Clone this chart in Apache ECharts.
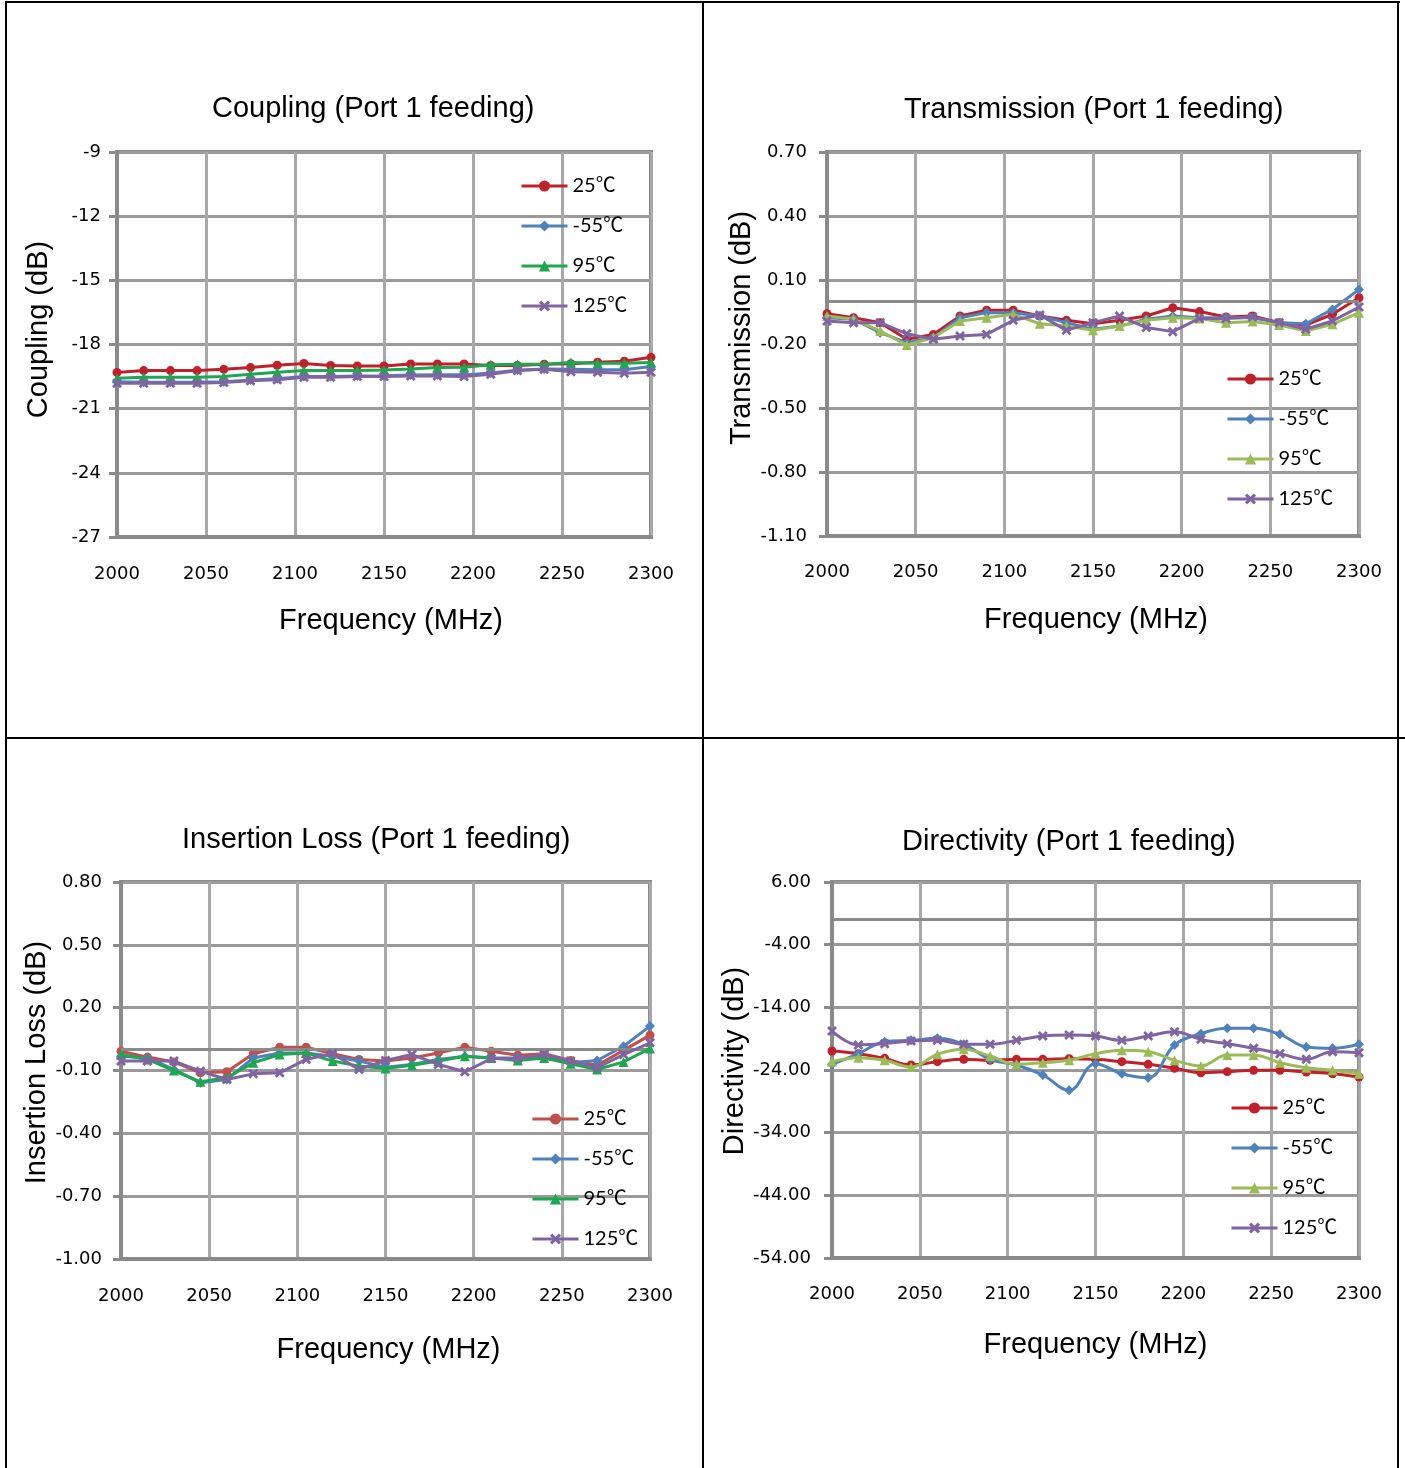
<!DOCTYPE html>
<html>
<head>
<meta charset="utf-8">
<script src="https://cdn.jsdelivr.net/npm/echarts@6/dist/echarts.min.js"></script>
<style>
html,body{margin:0;padding:0;background:#fff;}
#c{width:1405px;height:1468px;}
</style>
</head>
<body>
<div id="c"></div>
<script>
// ---------- data ----------
const freq = [2000,2015,2030,2045,2060,2075,2090,2105,2120,2135,2150,2165,2180,2195,2210,2225,2240,2255,2270,2285,2300];
const seriesNames = ['25℃','-55℃','95℃','125℃'];
const xTicks = [2000,2050,2100,2150,2200,2250,2300];

const coupling25  = [-19.31,-19.22,-19.22,-19.22,-19.16,-19.08,-18.97,-18.89,-18.98,-19.00,-19.00,-18.91,-18.91,-18.91,-18.98,-18.98,-18.92,-18.90,-18.83,-18.78,-18.60];
const couplingM55 = [-19.74,-19.76,-19.76,-19.76,-19.74,-19.66,-19.60,-19.50,-19.50,-19.47,-19.46,-19.43,-19.42,-19.42,-19.33,-19.20,-19.14,-19.16,-19.18,-19.18,-19.03];
const coupling95  = [-19.58,-19.53,-19.53,-19.53,-19.50,-19.39,-19.30,-19.22,-19.22,-19.22,-19.19,-19.14,-19.08,-19.06,-18.95,-18.92,-18.92,-18.84,-18.88,-18.88,-18.84];
const coupling125 = [-19.81,-19.81,-19.81,-19.81,-19.78,-19.69,-19.65,-19.53,-19.53,-19.50,-19.50,-19.47,-19.47,-19.50,-19.39,-19.22,-19.16,-19.27,-19.30,-19.34,-19.30];

const trans25  = [-0.058,-0.077,-0.100,-0.178,-0.155,-0.069,-0.042,-0.042,-0.069,-0.089,-0.105,-0.089,-0.069,-0.030,-0.048,-0.073,-0.069,-0.100,-0.111,-0.061,0.017];
const transM55 = [-0.077,-0.084,-0.147,-0.194,-0.170,-0.077,-0.053,-0.053,-0.069,-0.100,-0.131,-0.116,-0.084,-0.069,-0.077,-0.077,-0.077,-0.100,-0.105,-0.038,0.056];
const trans95  = [-0.069,-0.084,-0.139,-0.205,-0.170,-0.092,-0.077,-0.061,-0.105,-0.116,-0.136,-0.116,-0.089,-0.077,-0.080,-0.100,-0.095,-0.111,-0.139,-0.108,-0.053];
const trans125 = [-0.092,-0.100,-0.100,-0.152,-0.178,-0.163,-0.155,-0.089,-0.064,-0.136,-0.100,-0.069,-0.123,-0.142,-0.080,-0.080,-0.073,-0.100,-0.131,-0.092,-0.027];

const ins25  = [-0.008,-0.036,-0.059,-0.111,-0.106,-0.020,0.011,0.011,-0.020,-0.047,-0.055,-0.040,-0.016,0.011,-0.008,-0.027,-0.020,-0.052,-0.075,-0.004,0.069];
const insM55 = [-0.032,-0.040,-0.095,-0.159,-0.143,-0.040,-0.016,-0.016,-0.032,-0.055,-0.084,-0.071,-0.047,-0.032,-0.040,-0.040,-0.036,-0.063,-0.052,0.016,0.112];
const ins95  = [-0.024,-0.047,-0.100,-0.154,-0.135,-0.063,-0.024,-0.016,-0.055,-0.079,-0.090,-0.075,-0.055,-0.032,-0.040,-0.052,-0.040,-0.068,-0.095,-0.059,0.005];
const ins125 = [-0.055,-0.055,-0.055,-0.103,-0.143,-0.116,-0.111,-0.047,-0.020,-0.095,-0.052,-0.024,-0.071,-0.106,-0.043,-0.043,-0.024,-0.055,-0.087,-0.024,0.032];

const dir25  = [-20.97,-21.39,-22.14,-23.20,-22.67,-22.30,-22.46,-22.30,-22.30,-22.19,-22.30,-22.67,-23.10,-23.73,-24.43,-24.27,-24.05,-24.05,-24.32,-24.59,-25.12];
const dirM55 = [-23.10,-21.39,-19.48,-19.27,-18.95,-19.90,-22.30,-23.20,-24.80,-27.25,-22.99,-24.59,-25.22,-20.01,-18.20,-17.35,-17.35,-18.31,-20.33,-20.54,-19.90];
const dir95  = [-22.67,-22.03,-22.46,-23.52,-21.50,-20.70,-21.77,-23.10,-22.83,-22.46,-21.39,-20.86,-21.07,-22.46,-23.36,-21.61,-21.61,-22.83,-23.63,-24.05,-24.59];
const dir125 = [-17.78,-20.01,-19.80,-19.37,-19.27,-19.90,-19.90,-19.27,-18.57,-18.41,-18.57,-19.27,-18.57,-17.88,-19.11,-19.80,-20.54,-21.39,-22.30,-21.07,-21.23];

// ---------- styling / layout ----------
const XSYM = 'path://M2,0L5,3L8,0L10,2L7,5L10,8L8,10L5,7L2,10L0,8L3,5L0,2Z';
const symbols = ['circle','diamond','triangle',XSYM];
const symSizes = [9,10,10,10];

const panels = [
  {title:'Coupling (Port 1 feeding)', yName:'Coupling (dB)', titleLeft:212, titleTop:94,
   grid:{left:117,top:152,width:534,height:385}, min:-27, max:-9, interval:3, dec:0, zero:false, smooth:false,
   data:[coupling25,couplingM55,coupling95,coupling125],
   colors:['#C0202A','#4F81BD','#1EA650','#8064A2'],
   legend:{left:520, top:176}, yNameGap:64, yNamePad:30, xNameGap:69, xNamePad:14, xLabMargin:28, yLabMargin:16},
  {title:'Transmission (Port 1 feeding)', yName:'Transmission (dB)', titleLeft:904, titleTop:95,
   grid:{left:827,top:152,width:532,height:384}, min:-1.1, max:0.7, interval:0.3, dec:2, zero:true, smooth:false,
   data:[trans25,transM55,trans95,trans125],
   colors:['#C0202A','#4F81BD','#9BBB59','#8064A2'],
   legend:{left:1226, top:369}, yNameGap:66, yNamePad:32, xNameGap:69, xNamePad:6, xLabMargin:27, yLabMargin:20},
  {title:'Insertion Loss (Port 1 feeding)', yName:'Insertion Loss (dB)', titleLeft:182, titleTop:825,
   grid:{left:121,top:882,width:529,height:377}, min:-1.0, max:0.8, interval:0.3, dec:2, zero:true, smooth:false,
   data:[ins25,insM55,ins95,ins125],
   colors:['#C0504D','#4F81BD','#1EA650','#8064A2'],
   legend:{left:531, top:1109}, yNameGap:68, yNamePad:16, xNameGap:76, xNamePad:6, xLabMargin:28, yLabMargin:19},
  {title:'Directivity (Port 1 feeding)', yName:'Directivity (dB)', titleLeft:902, titleTop:827,
   grid:{left:832,top:882,width:527,height:376}, min:-54, max:6, interval:10, dec:2, zero:true, smooth:0.4,
   data:[dir25,dirM55,dir95,dir125],
   colors:['#C0202A','#4F81BD','#9BBB59','#8064A2'],
   legend:{left:1230, top:1098}, yNameGap:75, yNamePad:18, xNameGap:72, xNamePad:0, xLabMargin:27, yLabMargin:21}
];

const option = {
  backgroundColor:'#fff',
  animation:false,
  title:[], grid:[], xAxis:[], yAxis:[], legend:[], series:[],
  graphic:[
    {type:'rect', shape:{x:5,y:1,width:1395,height:2}, style:{fill:'#000'}, silent:true},
    {type:'rect', shape:{x:5,y:1,width:2,height:1467}, style:{fill:'#000'}, silent:true},
    {type:'rect', shape:{x:1397,y:1,width:2,height:1467}, style:{fill:'#000'}, silent:true},
    {type:'rect', shape:{x:702,y:1,width:2,height:1467}, style:{fill:'#000'}, silent:true},
    {type:'rect', shape:{x:5,y:737,width:1400,height:2}, style:{fill:'#000'}, silent:true}
  ]
};

const AXC = '#8a8a8a';
panels.forEach((p, k) => {
  option.title.push({
    text:p.title, left:p.titleLeft, top:p.titleTop, padding:0,
    textStyle:{fontFamily:'Liberation Sans', fontSize:29, fontWeight:'normal', color:'#000'}
  });
  option.grid.push(Object.assign({show:true, borderColor:AXC, borderWidth:4, backgroundColor:'transparent'}, p.grid));
  option.xAxis.push({
    type:'value', gridIndex:k, min:2000, max:2300, interval:50,
    name:'Frequency (MHz)', nameLocation:'middle', nameGap:p.xNameGap,
    nameTextStyle:{fontFamily:'Liberation Sans', fontSize:29, color:'#000', padding:[0,0,0,p.xNamePad]},
    axisLine:{show:true, onZero:false, lineStyle:{color:AXC, width:4}},
    axisTick:{show:false},
    axisLabel:{margin:p.xLabMargin, fontFamily:'DejaVu Sans', fontSize:18, color:'#000', formatter:v=>String(v)},
    splitLine:{show:true, lineStyle:{color:'#a8a8a8', width:3}}
  });
  option.yAxis.push({
    type:'value', gridIndex:k, min:p.min, max:p.max, interval:p.interval,
    name:p.yName, nameLocation:'middle', nameGap:p.yNameGap, nameRotate:90,
    nameTextStyle:{fontFamily:'Liberation Sans', fontSize:29, color:'#000', padding:[0,0,0,p.yNamePad]},
    axisLine:{show:true, onZero:false, lineStyle:{color:AXC, width:4}},
    axisTick:{show:true, length:8, lineStyle:{color:AXC, width:3}},
    axisLabel:{margin:p.yLabMargin, fontFamily:'DejaVu Sans', fontSize:18, color:'#000',
      formatter:v=>Number(v).toFixed(p.dec)},
    splitLine:{show:true, lineStyle:{color:'#9a9a9a', width:3}}
  });
  option.legend.push({
    orient:'vertical', left:p.legend.left, top:p.legend.top, padding:0,
    itemWidth:46, itemHeight:14, itemGap:20, selectedMode:false,
    textStyle:{fontFamily:'Lato, "Noto Sans CJK SC"', fontSize:20, color:'#000', lineHeight:20},
    data:seriesNames.map((n,i)=>({name:n, itemStyle:{color:p.colors[i]}, lineStyle:{color:p.colors[i], width:3}}))
  });
  if (p.zero) {
    option.series.push({
      type:'line', xAxisIndex:k, yAxisIndex:k, data:[], z:1, silent:true,
      markLine:{silent:true, symbol:'none', label:{show:false}, animation:false,
        lineStyle:{color:AXC, width:3, type:'solid'}, data:[{yAxis:0}]}
    });
  }
  seriesNames.forEach((n,i) => {
    option.series.push({
      type:'line', name:n, xAxisIndex:k, yAxisIndex:k, z:3+i,
      data:p.data[i].map((v,j)=>[freq[j], v]),
      smooth:p.smooth, symbol:symbols[i], symbolSize:symSizes[i],
      itemStyle:{color:p.colors[i]}, lineStyle:{color:p.colors[i], width:3}
    });
  });
});

const chart = echarts.init(document.getElementById('c'), null, {renderer:'canvas'});
chart.setOption(option);
</script>
</body>
</html>
